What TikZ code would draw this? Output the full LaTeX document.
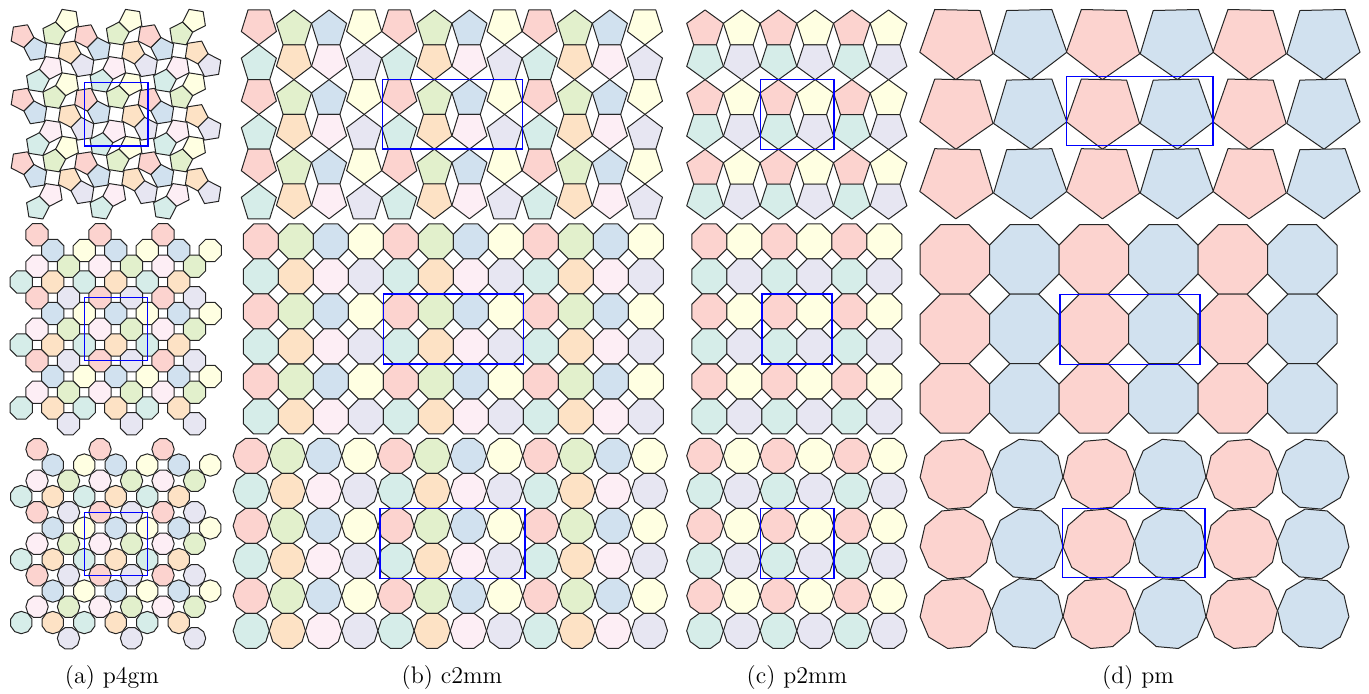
\documentclass[tikz,border=0pt]{standalone}
\usepackage{tikz}
\usetikzlibrary{calc}
\definecolor{tilered}{RGB}{252,211,207}
\definecolor{tileblue}{RGB}{209,225,239}
\definecolor{tileyellow}{RGB}{255,255,226}
\definecolor{tilegreen}{RGB}{226,240,204}
\definecolor{tileorange}{RGB}{253,226,197}
\definecolor{tilepink}{RGB}{253,238,245}
\definecolor{tileteal}{RGB}{214,237,233}
\definecolor{tilelavender}{RGB}{231,230,242}

\tikzset{
  tile/.style={draw=black!85, line width=0.5pt, line join=round},
  cellbox/.style={draw=blue, line width=0.75pt},
  caption/.style={font=\fontsize{12}{14}\selectfont, inner sep=0pt}
}

% polygon: centre #1,#2; sides #3; radius #4; y-stretch #5; first vertex #6; fill #7
\newcommand{\ngon}[7]{%
  \pgfmathtruncatemacro\lastk{#3-1}%
  \filldraw[tile, fill=#7, shift={(#1,#2)}, yscale=#5]
    (#6:#4) \foreach \k in {1,...,\lastk}{ -- (#6+\k*360/#3:#4)} -- cycle;}

\begin{document}
\begin{tikzpicture}[x=0.5pt, y=-0.5pt]
  \useasboundingbox (0,0) rectangle (1369,694);

  % (a) p4gm, pentagons
  \foreach \dx/\dy/\ang/\cc in {1.223/-16.655/279/tilegreen, 16.655/1.223/9/tileorange,
      -1.223/16.655/99/tilepink, -16.655/-1.223/189/tileblue, 30.527/15.095/261/tilelavender,
      32.973/48.405/81/tilered, 15.095/32.973/171/tileyellow, 48.405/30.527/351/tileteal}
    \foreach \i in {-1,...,2} \foreach \j in {-1,...,2} {
      \pgfmathsetmacro\xc{52.5+63.5*(\i)+(\dx)}
      \pgfmathsetmacro\yc{50.7+63.5*(\j)+(\dy)}
      \pgfmathtruncatemacro\inside{(\xc>20.8)&&(\xc<211.3)&&(\yc>18.8)&&(\yc<209.5)}
      \ifnum\inside=1 \ngon{\xc}{\yc}{5}{12.1}{1}{\ang}{\cc}\fi
    }
  \draw[cellbox] (84.25,82.45) rectangle (147.75,145.95);

  % (a) p4gm, octagons
  \foreach \m/\n/\cc in {0/0/tilered, 1/1/tileblue, 3/1/tileyellow, 0/2/tilepink,
      2/2/tilegreen, 1/3/tileorange, -1/3/tileteal, 2/4/tilelavender}
    \foreach \i in {0,1,2} \foreach \j in {0,1,2} {
      \pgfmathsetmacro\xc{37.05+15.75*(\m+4*\i)}
      \pgfmathsetmacro\yc{234.7+15.75*(\n+4*\j)}
      \ngon{\xc}{\yc}{8}{12.06}{1}{22.5}{\cc}
    }
  \draw[cellbox] (84.3,297.7) rectangle (147.3,360.7);

  % (a) p4gm, decagons
  \foreach \m/\n/\ang/\cc in {0/0/0/tilered, 1/1/18/tileblue, 3/1/18/tileyellow, 0/2/0/tilepink,
      2/2/0/tilegreen, 1/3/18/tileorange, -1/3/18/tileteal, 2/4/0/tilelavender}
    \foreach \i in {0,1,2} \foreach \j in {0,1,2} {
      \pgfmathsetmacro\xc{37.05+15.75*(\m+4*\i)}
      \pgfmathsetmacro\yc{449.3+15.75*(\n+4*\j)}
      \ngon{\xc}{\yc}{10}{11.2}{1}{\ang}{\cc}
    }
  \draw[cellbox] (84.3,512.3) rectangle (147.3,575.3);

  % (b) c2mm, pentagons
  \foreach \rep in {0,1,2}
    \foreach \k/\ca/\cb/\first in {0/tilered/tileteal/90, 1/tilegreen/tileorange/270,
        2/tileblue/tilepink/270, 3/tileyellow/tilelavender/90}
      \foreach \j in {0,...,5} {
        \pgfmathsetmacro\xc{241.3+17.55+35.1*(4*\rep+\k)}
        \pgfmathsetmacro\ang{mod(\j,2)==0 ? \first : 360-\first}
        \pgfmathsetmacro\yc{10+34.8*\j+(\ang==90 ? 0.809 : 1)*19.24}
        \ifodd\j \def\cc{\cb}\else\def\cc{\ca}\fi
        \ngon{\xc}{\yc}{5}{18.45}{1.043}{\ang}{\cc}
      }
  \draw[cellbox] (382.3,79.6) rectangle (522.7,149.2);

  % (b) c2mm, octagons
  \foreach \rep in {0,1,2}
    \foreach \k/\ca/\cb in {0/tilered/tileteal, 1/tilegreen/tileorange,
        2/tileblue/tilepink, 3/tileyellow/tilelavender}
      \foreach \j in {0,...,5} {
        \pgfmathsetmacro\xc{243.3+17.5+35*(4*\rep+\k)}
        \pgfmathsetmacro\yc{224+17.5+35*\j}
        \ifodd\j \def\cc{\cb}\else\def\cc{\ca}\fi
        \ngon{\xc}{\yc}{8}{18.94}{1}{22.5}{\cc}
      }
  \draw[cellbox] (383.3,294) rectangle (523.3,364);

  % (b) c2mm, decagons
  \foreach \rep in {0,1,2}
    \foreach \k/\ca/\cb in {0/tilered/tileteal, 1/tilegreen/tileorange,
        2/tileblue/tilepink, 3/tileyellow/tilelavender}
      \foreach \j in {0,...,5} {
        \pgfmathsetmacro\xc{233.1+18.1+36.2*(4*\rep+\k)}
        \pgfmathsetmacro\yc{438.3+17.5+35*\j}
        \ifodd\j \def\cc{\cb}\else\def\cc{\ca}\fi
        \ngon{\xc}{\yc}{10}{18.1}{1.017}{0}{\cc}
      }
  \draw[cellbox] (380,508.3) rectangle (525,578.3);

  % (c) p2mm, pentagons
  \foreach \rep in {0,1,2}
    \foreach \k/\ca/\cb in {0/tilered/tileteal, 1/tileyellow/tilelavender}
      \foreach \p in {0,1,2} {
        \pgfmathsetmacro\xc{686.7+18.35+36.7*(2*\rep+\k)}
        \pgfmathsetmacro\ya{10+69.7*\p+19.27}
        \pgfmathsetmacro\yb{10+69.7*\p+2.618*19.27}
        \ngon{\xc}{\ya}{5}{19.3}{1}{270}{\ca}
        \ngon{\xc}{\yb}{5}{19.3}{1}{90}{\cb}
      }
  \draw[cellbox] (760.3,79.3) rectangle (834,149.3);

  % (c) p2mm, octagons
  \foreach \rep in {0,1,2}
    \foreach \k/\ca/\cb in {0/tilered/tileteal, 1/tileyellow/tilelavender}
      \foreach \j in {0,...,5} {
        \pgfmathsetmacro\xc{691.8+17.5+35*(2*\rep+\k)}
        \pgfmathsetmacro\yc{224+17.5+35*\j}
        \ifodd\j \def\cc{\cb}\else\def\cc{\ca}\fi
        \ngon{\xc}{\yc}{8}{18.94}{1}{22.5}{\cc}
      }
  \draw[cellbox] (761.8,294) rectangle (831.8,364);

  % (c) p2mm, decagons
  \foreach \rep in {0,1,2}
    \foreach \k/\ca/\cb in {0/tilered/tileteal, 1/tileyellow/tilelavender}
      \foreach \j in {0,...,5} {
        \pgfmathsetmacro\xc{686.7+18.35+36.7*(2*\rep+\k)}
        \pgfmathsetmacro\yc{438.3+17.5+35*\j}
        \ifodd\j \def\cc{\cb}\else\def\cc{\ca}\fi
        \ngon{\xc}{\yc}{10}{18.35}{1.003}{0}{\cc}
      }
  \draw[cellbox] (760.3,508.3) rectangle (834,578.3);

  % (d) pm, pentagons
  \foreach \rep in {0,1,2}
    \foreach \k/\cc/\ang in {0/tilered/91.3, 1/tileblue/88.7}
      \foreach \j in {0,1,2} {
        \pgfmathsetmacro\xc{920+36.65+73.3*(2*\rep+\k)}
        \pgfmathsetmacro\yc{41.15+69.6*\j}
        \ngon{\xc}{\yc}{5}{38.5}{1}{\ang}{\cc}
      }
  \draw[cellbox] (1066.7,76.7) rectangle (1213,145.7);

  % (d) pm, octagons
  \foreach \rep in {0,1,2}
    \foreach \k/\cc in {0/tilered, 1/tileblue}
      \foreach \j in {0,1,2} {
        \pgfmathsetmacro\xc{920+34.75+69.5*(2*\rep+\k)}
        \pgfmathsetmacro\yc{224.7+34.75+69.5*\j}
        \ngon{\xc}{\yc}{8}{37.6}{1}{22.5}{\cc}
      }
  \draw[cellbox] (1060,294.3) rectangle (1200,364.3);

  % (d) pm, decagons
  \foreach \rep in {0,1,2}
    \foreach \k/\cc/\ang in {0/tilered/-5, 1/tileblue/5}
      \foreach \j in {0,1,2} {
        \pgfmathsetmacro\xc{920+35.75+71.5*(2*\rep+\k)}
        \pgfmathsetmacro\yc{439.3+34.9+69.7*\j}
        \ngon{\xc}{\yc}{10}{35.8}{1}{\ang}{\cc}
      }
  \draw[cellbox] (1062.3,508.7) rectangle (1205,577.3);

  % captions
  \node[caption] (capA) at (112,678) {(a) p4gm};
  \node[caption] (capB) at (452,678) {(b) c2mm};
  \node[caption] (capC) at (797,678) {(c) p2mm};
  \node[caption] (capD) at (1138,678) {(d) pm};
\end{tikzpicture}
\end{document}
